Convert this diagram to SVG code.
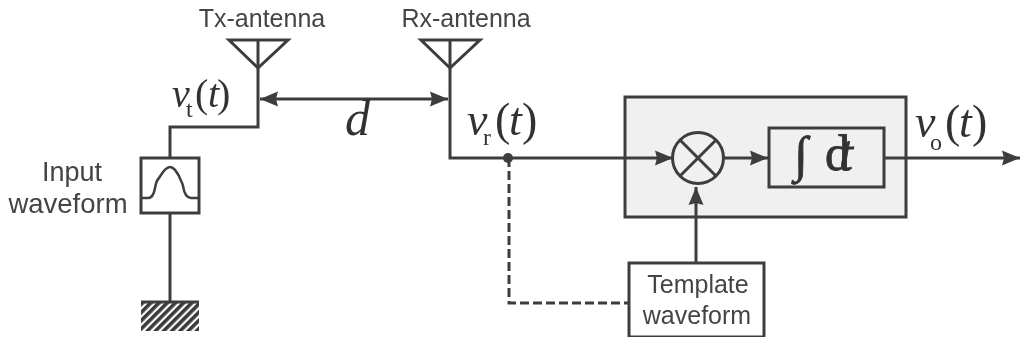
<svg xmlns="http://www.w3.org/2000/svg" width="1020" height="340" viewBox="0 0 1020 340">
<style>
.l{fill:none;stroke:#3c3c3c;stroke-width:3}
.t{fill:none;stroke:#3c3c3c;stroke-width:2.5}
.s{font-family:"Liberation Sans",Arial,sans-serif;font-size:25px;fill:#444}
.m{font-family:"Liberation Serif","Times New Roman",serif;fill:#333;font-size:46px}
.i{font-style:italic}
.sub{font-size:24px;font-style:normal}
</style>
<defs>
<marker id="a" markerUnits="userSpaceOnUse" markerWidth="20" markerHeight="16" refX="18" refY="8" orient="auto-start-reverse"><path d="M0 0.5L18 8L0 15.5L2 8Z" fill="#3c3c3c"/></marker>
<pattern id="h" width="5.8" height="5.8" patternUnits="userSpaceOnUse" patternTransform="rotate(-45)"><rect width="5.8" height="5.8" fill="#fff"/><rect width="5.8" height="3.6" fill="#3a3a3a"/></pattern>
<filter id="soft" x="0" y="0" width="1" height="1"><feGaussianBlur stdDeviation="0.5"/></filter>
</defs>
<rect width="1020" height="340" fill="#fff"/>
<g filter="url(#soft)">
<g id="processor"><rect x="625" y="97" width="281" height="120" fill="#f0f0f0" stroke="#3c3c3c" stroke-width="3"/></g>
<g id="connectors">
<path class="l" d="M258 40V127H170V157"/>
<path class="l" d="M170 214V302"/>
<path class="l" d="M450 40V158H509"/>
<path class="l" d="M509 158H673" marker-end="url(#a)"/>
<path class="l" d="M260 99H448" marker-start="url(#a)" marker-end="url(#a)"/>
<path class="l" d="M724 158H768" marker-end="url(#a)"/>
<path class="l" d="M885 158H1020" marker-end="url(#a)"/>
<path class="l" d="M696 263V187" marker-end="url(#a)"/>
<path class="l" d="M509 158V303H629" stroke-dasharray="9 4"/>
<circle cx="508" cy="158" r="5" fill="#3c3c3c"/>
</g>
<g id="tx-antenna"><path class="l" d="M229 40H288L258 68Z"/><text class="s" x="262" y="27" text-anchor="middle">Tx-antenna</text></g>
<g id="rx-antenna"><path class="l" d="M421 40H480L450 68Z"/><text class="s" x="466" y="27" text-anchor="middle">Rx-antenna</text></g>
<g id="input-waveform"><rect class="l" x="141" y="158" width="58" height="55" fill="#fff"/>
<path class="t" d="M141 198H148C152 198 154 194 155 188C156 182 157 180 159 178C162 173 166 167 170 167C174 167 176 171 179 176C180 180 182 181 183 186C184 192 186 198 191 198H199"/>
<text class="s" x="72" y="181" text-anchor="middle" style="font-size:27px">Input</text><text class="s" x="68" y="213" text-anchor="middle" style="font-size:27.5px">waveform</text></g>
<g id="ground"><rect x="141" y="302" width="58" height="29" fill="url(#h)"/><path class="l" d="M141 302H199"/></g>
<g id="mixer"><circle class="l" cx="698" cy="158" r="25.5" fill="#fff"/><path class="l" d="M680 140L716 176M716 140L680 176"/></g>
<g id="integrator"><rect class="l" x="769" y="128" width="115" height="59" fill="#fff"/>
<text class="m" x="794" y="171" style="font-size:50px;stroke:#333;stroke-width:.8">∫<tspan x="825" y="170">d</tspan><tspan class="i" x="839" y="170">t</tspan></text></g>
<g id="template"><rect class="l" x="629" y="263" width="135" height="74" fill="#fff"/><text class="s" x="698" y="293" text-anchor="middle">Template</text><text class="s" x="697" y="324" text-anchor="middle">waveform</text></g>
<g id="labels">
<text class="m" x="172" y="107" style="font-size:40px"><tspan class="i">v</tspan><tspan class="sub" x="186" y="117">t</tspan><tspan x="195" y="107">(</tspan><tspan class="i" x="208" y="107">t</tspan><tspan x="217" y="107">)</tspan></text>
<text class="m i" x="345" y="135" style="font-size:50px">d</text>
<text class="m" x="467" y="135"><tspan class="i">v</tspan><tspan class="sub" x="483" y="145">r</tspan><tspan x="495" y="135">(</tspan><tspan class="i" x="509" y="135">t</tspan><tspan x="522" y="135">)</tspan></text>
<text class="m" x="915" y="137"><tspan class="i">v</tspan><tspan class="sub" x="930" y="150">o</tspan><tspan x="945" y="137">(</tspan><tspan class="i" x="959" y="137">t</tspan><tspan x="972" y="137">)</tspan></text>
</g>
</g>
</svg>
